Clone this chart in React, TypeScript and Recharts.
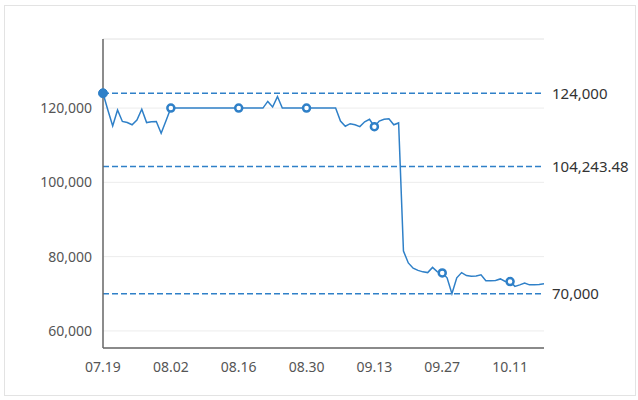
import React from 'react';
import { LineChart, Line, XAxis, YAxis, CartesianGrid, ReferenceLine } from 'recharts';

const dates: string[] = [
  '07.19','07.20','07.21','07.22','07.23','07.24','07.25','07.26','07.27','07.28','07.29','07.30','07.31',
  '08.01','08.02','08.03','08.04','08.05','08.06','08.07','08.08','08.09','08.10','08.11','08.12','08.13','08.14','08.15','08.16','08.17','08.18','08.19','08.20','08.21','08.22','08.23','08.24','08.25','08.26','08.27','08.28','08.29','08.30','08.31',
  '09.01','09.02','09.03','09.04','09.05','09.06','09.07','09.08','09.09','09.10','09.11','09.12','09.13','09.14','09.15','09.16','09.17','09.18','09.19','09.20','09.21','09.22','09.23','09.24','09.25','09.26','09.27','09.28','09.29','09.30',
  '10.01','10.02','10.03','10.04','10.05','10.06','10.07','10.08','10.09','10.10','10.11','10.12','10.13','10.14','10.15','10.16','10.17','10.18',
];

const prices: number[] = [
  124000, 119500, 115200, 119500, 116400, 116100, 115500, 116800, 119700, 116100,
  116300, 116400, 113200, 116600, 120000, 120000, 120000, 120000, 120000, 120000,
  120000, 120000, 120000, 120000, 120000, 120000, 120000, 120000, 120000, 120000,
  120000, 120000, 120000, 120000, 121800, 120300, 123100, 120000, 120000, 120000,
  120000, 120000, 120000, 120000, 120000, 120000, 120000, 120000, 120000, 116500,
  115100, 115800, 115500, 115000, 116300, 117000, 115000, 116500, 117000, 117100,
  115500, 116000, 81500, 78300, 76900, 76300, 75900, 75700, 77100, 75900,
  75600, 74300, 70000, 74300, 75700, 74900, 74700, 74800, 75100, 73500,
  73500, 73600, 74000, 73300, 73300, 72000, 72400, 72900, 72400, 72400,
  72500, 72700,
];

const yTicks: number[] = [60000, 80000, 100000, 120000];
const yDomain: number[] = [55400, 138600];
const markValues: number[] = [124000, 104243.48, 70000];
const markLabels: string[] = ['124,000', '104,243.48', '70,000'];

const data = dates.map((d, i) => ({ date: d, price: prices[i] }));

const BLUE = '#2f80c8';
const FONT = '"Noto Sans", "Open Sans", sans-serif';

const renderDot = (props: any) => {
  const { cx, cy, index } = props;
  if (index % 14 !== 0) return <g key={`d${index}`} />;
  if (index === 0) {
    return <circle key={`d${index}`} cx={cx} cy={cy} r={4.5} fill={BLUE} stroke={BLUE} strokeWidth={1} />;
  }
  return <circle key={`d${index}`} cx={cx} cy={cy} r={3.5} fill="#fff" stroke={BLUE} strokeWidth={2.5} />;
};

export default function App() {
  return (
    <div style={{ position: 'absolute', left: 0, top: 0, width: 638, height: 400, background: '#fff', fontFamily: FONT }}>
      <div style={{ position: 'absolute', left: 4, top: 5, width: 630, height: 389, border: '1px solid #e3e3e3' }} />
      <div style={{ position: 'absolute', left: 0, top: 0 }}>
        <LineChart width={638} height={400} data={data} margin={{ top: 39, right: 94, bottom: 22, left: 43 }}>
          <CartesianGrid vertical={false} stroke="#ececec" />
          <ReferenceLine y={yDomain[1]} stroke="#ececec" />
          <XAxis
            dataKey="date"
            interval={13}
            tickLine={false}
            axisLine={{ stroke: '#666', strokeWidth: 1.5 }}
            tick={{ fill: '#555', fontSize: 14, fontFamily: FONT }}
            tickMargin={8}
            height={30}
          />
          <YAxis
            type="number"
            domain={yDomain}
            ticks={yTicks}
            allowDataOverflow
            tickLine={false}
            axisLine={{ stroke: '#666', strokeWidth: 1.5 }}
            tick={{ fill: '#555', fontSize: 14, fontFamily: FONT }}
            tickFormatter={(v: number) => v.toLocaleString('en-US')}
            tickMargin={5}
            width={60}
          />
          {markValues.map((v, i) => (
            <ReferenceLine
              key={`m${i}`}
              y={v}
              stroke={BLUE}
              strokeWidth={1.5}
              strokeDasharray="6 3"
              label={{ value: markLabels[i], position: 'right', offset: 8, fill: '#333', fontSize: 15, fontFamily: FONT }}
            />
          ))}
          <Line
            type="linear"
            dataKey="price"
            stroke={BLUE}
            strokeWidth={1.5}
            dot={renderDot}
            activeDot={false}
            isAnimationActive={false}
          />
        </LineChart>
      </div>
    </div>
  );
}
